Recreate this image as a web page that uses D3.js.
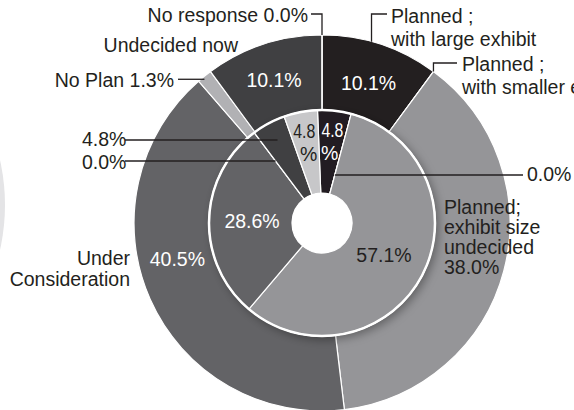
<!DOCTYPE html>
<html>
<head>
<meta charset="utf-8">
<script src="https://cdn.jsdelivr.net/npm/d3@7/dist/d3.min.js"></script>
<style>
  html, body { margin: 0; padding: 0; background: #fff; }
  svg { display: block; font-family: "Liberation Sans", Arial, sans-serif; }
</style>
</head>
<body>
<svg id="chart" width="574" height="410"></svg>
<script>
// Response categories (shared by both rings)
const categories = [
  "Planned ; with large exhibit",
  "Planned ; with smaller exhibit",
  "Planned; exhibit size undecided",
  "Under Consideration",
  "No Plan",
  "Undecided now",
  "No response"
];
// Outer ring shares (%)
const outerValues = [10.1, 0.0, 38.0, 40.5, 1.3, 10.1, 0.0];
// Inner ring shares (%)
const innerValues = [4.8, 0.0, 57.1, 28.6, 0.0, 4.8, 4.8];
// Fill per category
const colors = ["#231f20", "#7c7c7f", "#959598", "#636366", "#b1b1b4", "#404042", "#c7c7c9"];

const W = 574, H = 410;
const cx = 322, cy = 223;
const rHole = 30, rMid = 113, rOut = 188;
const ink = "#231f20";
const fontSize = 19.5;

const svg = d3.select("#chart");
const defs = svg.append("defs");
const shadow = defs.append("filter").attr("id", "ringShadow")
  .attr("x", "-30%").attr("y", "-30%").attr("width", "160%").attr("height", "160%");
shadow.append("feDropShadow").attr("dx", 3).attr("dy", 3)
  .attr("stdDeviation", 5).attr("flood-color", "#000").attr("flood-opacity", 0.35);

// faint edge of a neighbouring disc at the far left
svg.append("circle").attr("cx", -200).attr("cy", 205).attr("r", 205).attr("fill", "#e4e4e6");

const color = d3.scaleOrdinal().domain(categories).range(colors);
const pct = d3.format(".1f");

const outerPie = d3.pie().sort(null).value(d => d.value)
  .startAngle(0).endAngle(2 * Math.PI);
const innerOffset = -0.04;
const innerPie = d3.pie().sort(null).value(d => d.value)
  .startAngle(innerOffset).endAngle(2 * Math.PI + innerOffset);

const outerArcs = outerPie(categories.map((c, i) => ({ cat: c, value: outerValues[i] })));
const innerArcs = innerPie(categories.map((c, i) => ({ cat: c, value: innerValues[i] })));

const outerArc = d3.arc().innerRadius(rMid).outerRadius(rOut);
const innerArc = d3.arc().innerRadius(rHole).outerRadius(rMid);

const g = svg.append("g").attr("transform", `translate(${cx},${cy})`);

// outer ring
g.append("g").selectAll("path").data(outerArcs).join("path")
  .attr("d", outerArc)
  .attr("fill", d => color(d.data.cat))
  .attr("stroke", "#fff").attr("stroke-width", 1.2).attr("stroke-linejoin", "round");

// inner ring with soft shadow
const innerG = g.append("g").attr("filter", "url(#ringShadow)");
innerG.append("circle").attr("r", rMid).attr("fill", "#fff");
innerG.selectAll("path").data(innerArcs).join("path")
  .attr("d", innerArc)
  .attr("fill", d => color(d.data.cat))
  .attr("stroke", "#fff").attr("stroke-width", 1.2).attr("stroke-linejoin", "round");
g.append("circle").attr("r", rMid).attr("fill", "none").attr("stroke", "#fff").attr("stroke-width", 2.5);
g.append("circle").attr("r", rHole).attr("fill", "#fff");

// polar helper (angle measured clockwise from 12 o'clock)
const polar = (a, r) => [r * Math.sin(a), -r * Math.cos(a)];
const mid = d => (d.startAngle + d.endAngle) / 2;

function text(x, y, lines, opts = {}) {
  const t = svg.append("text")
    .attr("x", x).attr("y", y)
    .attr("font-size", opts.size || fontSize)
    .attr("fill", opts.fill || ink)
    .attr("text-anchor", opts.anchor || "start")
    .attr("dominant-baseline", "central");
  lines.forEach((ln, i) => {
    const s = t.append("tspan").attr("x", x).attr("dy", i === 0 ? 0 : (opts.lh || 22.5)).text(ln);
    if (opts.squeeze) s.attr("textLength", opts.squeeze).attr("lengthAdjust", "spacingAndGlyphs");
  });
  return t;
}
function leader(points) {
  svg.append("path")
    .attr("d", d3.line()(points))
    .attr("fill", "none").attr("stroke", ink).attr("stroke-width", 1.3);
}

// values drawn inside the outer ring
const outerLabelSpots = { 0: [0.32, 148], 3: [4.47, 149], 5: [5.96, 151] };
outerArcs.forEach((d, i) => {
  if (!(i in outerLabelSpots)) return;
  const [a, r] = outerLabelSpots[i];
  const [x, y] = polar(a, r);
  text(cx + x, cy + y, [pct(d.data.value) + "%"], { anchor: "middle", fill: "#fff" });
});

// values drawn inside the inner ring (the dark 4.8% slice is called out from the left)
innerArcs.forEach((d, i) => {
  if (d.data.value === 0 || d.data.cat === "Undecided now") return;
  const a = mid(d);
  const dark = d.data.cat === "Planned; exhibit size undecided" || d.data.cat === "No response";
  const fill = dark ? ink : "#fff";
  if (d.data.value < 10) {
    const [x1, y1] = polar(a, 94);
    const [x2, y2] = polar(a, 70);
    text(cx + x1, cy + y1, [pct(d.data.value)], { anchor: "middle", fill, squeeze: 22 });
    text(cx + x2, cy + y2, ["%"], { anchor: "middle", fill });
  } else {
    const [x, y] = polar(a, 70);
    text(cx + x, cy + y, [pct(d.data.value) + "%"], { anchor: "middle", fill });
  }
});

// callouts for the outer ring
{
  // No response (zero slice at the top)
  const d = outerArcs[6];
  const [x, y] = polar(d.endAngle, rOut);
  leader([[cx + x, cy + y], [cx + x, 14], [311, 14]]);
  text(308, 15, ["No response " + pct(d.data.value) + "%"], { anchor: "end" });
}
{
  // Planned ; with large exhibit
  const d = outerArcs[0];
  const a = d.startAngle + 0.42 * (d.endAngle - d.startAngle);
  const [x, y] = polar(a, rOut);
  leader([[cx + x, cy + y], [cx + x, 14], [387, 14]]);
  text(391, 16, ["Planned ;", "with large exhibit"]);
}
{
  // Planned ; with smaller exhibit (zero slice)
  const d = outerArcs[1];
  const [x, y] = polar(d.startAngle, rOut);
  leader([[cx + x, cy + y], [cx + x, 63], [457, 63]]);
  text(462, 64, ["Planned ;", "with smaller exhibit"]);
}
{
  // Planned; exhibit size undecided
  const d = outerArcs[2];
  text(444, 207, ["Planned;", "exhibit size", "undecided", pct(d.data.value) + "%"], { lh: 20 });
}
{
  // Under Consideration
  text(130, 258, ["Under", "Consideration"], { anchor: "end", lh: 21 });
}
{
  // No Plan
  const d = outerArcs[4];
  const [x, y] = polar(mid(d), rOut);
  leader([[178, cy + y + 3], [cx + x, cy + y + 3]]);
  text(174, 80, ["No Plan " + pct(d.data.value) + "%"], { anchor: "end" });
}
{
  // Undecided now
  text(238, 45, ["Undecided now"], { anchor: "end" });
}

// callouts for the inner ring
{
  // dark 4.8% slice, pointed at from the left
  const d = innerArcs[5];
  const a = mid(d), y = 140;
  const x = cx - (y - cy) * Math.tan(a);
  leader([[125, y], [x, y]]);
  text(82, 139, [pct(d.data.value) + "%"]);
}
{
  // zero slice on the left
  const d = innerArcs[4];
  const a = d.startAngle, y = 161;
  const x = cx - (y - cy) * Math.tan(a);
  leader([[125, y], [x, y]]);
  text(82, 162, [pct(d.data.value) + "%"]);
}
{
  // zero slice on the right
  const d = innerArcs[1];
  const a = d.startAngle, y = 175;
  const x = cx - (y - cy) * Math.tan(a);
  leader([[x, y], [523, y]]);
  text(527, 174, [pct(d.data.value) + "%"]);
}
</script>
</body>
</html>
